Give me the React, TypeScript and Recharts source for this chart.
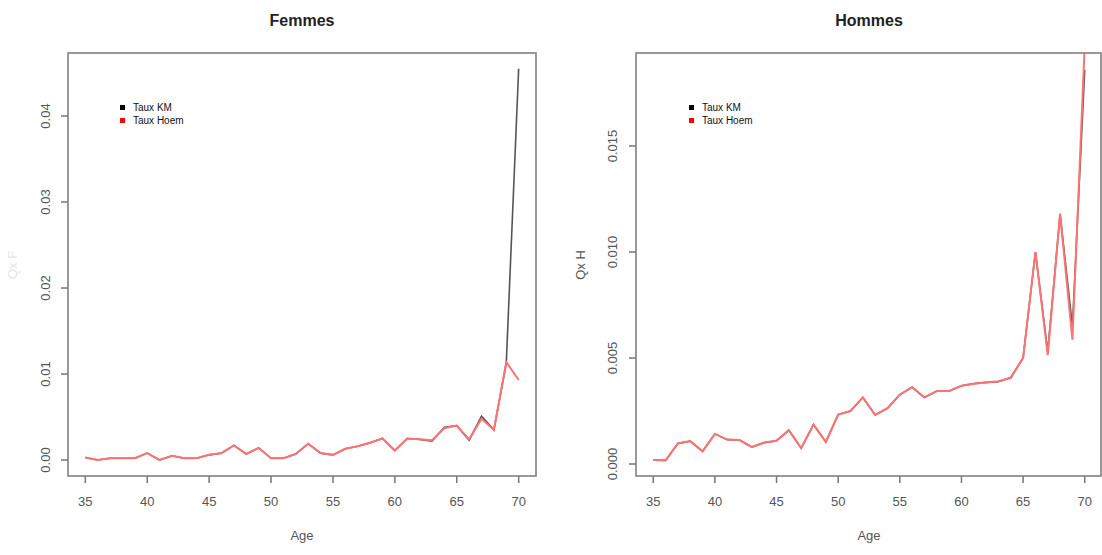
import { LineChart, Line, XAxis, YAxis, Legend } from 'recharts';

const ages = [
  35, 36, 37, 38, 39, 40, 41, 42, 43, 44, 45, 46, 47, 48, 49, 50, 51, 52,
  53, 54, 55, 56, 57, 58, 59, 60, 61, 62, 63, 64, 65, 66, 67, 68, 69, 70,
];

const femmesKM = [
  0.0003, 0.0, 0.0002, 0.0002, 0.0002, 0.0008, 0.0, 0.0005, 0.0002, 0.0002, 0.0006, 0.0008,
  0.0017, 0.0007, 0.0014, 0.0002, 0.0002, 0.0007, 0.0019, 0.0008, 0.0006, 0.0013, 0.0016, 0.002,
  0.0025, 0.0011, 0.0025, 0.0024, 0.0022, 0.0038, 0.004, 0.0023, 0.0051, 0.0035, 0.0113, 0.0455,
];
const femmesHoem = [
  0.0003, 0.0, 0.0002, 0.0002, 0.0002, 0.0008, 0.0, 0.0005, 0.0002, 0.0002, 0.0006, 0.0008,
  0.0017, 0.0007, 0.0014, 0.0002, 0.0002, 0.0007, 0.0019, 0.0008, 0.0006, 0.0013, 0.0016, 0.002,
  0.0025, 0.0011, 0.0025, 0.0024, 0.0023, 0.0037, 0.004, 0.0024, 0.0048, 0.0035, 0.0114, 0.0093,
];

const hommesKM = [
  0.00019, 0.00017, 0.00097, 0.00108, 0.0006, 0.00142, 0.00115, 0.00113, 0.0008, 0.00101, 0.0011, 0.00159,
  0.00075, 0.00186, 0.00104, 0.00233, 0.0025, 0.00314, 0.00231, 0.00263, 0.00327, 0.00362, 0.00314, 0.00344,
  0.00344, 0.00369, 0.00379, 0.00385, 0.00388, 0.00408, 0.005, 0.01, 0.0053, 0.0118, 0.0065, 0.0186,
];
const hommesHoem = [
  0.00019, 0.00017, 0.00097, 0.00108, 0.0006, 0.00142, 0.00115, 0.00113, 0.0008, 0.00101, 0.0011, 0.00159,
  0.00075, 0.00186, 0.00104, 0.00233, 0.0025, 0.00314, 0.00231, 0.00263, 0.00327, 0.00362, 0.00314, 0.00344,
  0.00344, 0.00369, 0.00379, 0.00385, 0.0039, 0.00406, 0.005, 0.01, 0.00513, 0.0118, 0.00586, 0.0198,
];

const ageTicks = [35, 40, 45, 50, 55, 60, 65, 70];
const femmesTicks = [0, 0.01, 0.02, 0.03, 0.04];
const hommesTicks = [0, 0.005, 0.01, 0.015];
const seriesNames = ['Taux KM', 'Taux Hoem'];

const FONT = '"Liberation Sans", Arial, sans-serif';
const KM_COLOR = '#555555';
const HOEM_COLOR = '#ff7272';

const toRows = (km: number[], hoem: number[]) =>
  ages.map((age, i) => ({ age, km: km[i], hoem: hoem[i] }));

function RotatedTick(props: any) {
  const { x, y, payload, digits } = props;
  return (
    <text
      x={x}
      y={y}
      transform={`rotate(-90, ${x}, ${y})`}
      textAnchor="middle"
      fill="#555"
      fontSize={13}
      fontFamily={FONT}
    >
      {Number(payload.value).toFixed(digits)}
    </text>
  );
}

// legend swatches are pure black / red, like R's legend(fill=...)
function LegendBox() {
  const colors = ['#000', '#ff0000'];
  return (
    <div style={{ fontFamily: FONT, fontSize: 10, lineHeight: '13px', color: '#111' }}>
      {seriesNames.map((name, i) => (
        <div key={name} style={{ display: 'flex', alignItems: 'center' }}>
          <span style={{ width: 5, height: 5, background: colors[i], marginRight: 8 }} />
          {name}
        </div>
      ))}
    </div>
  );
}

type PanelProps = {
  left: number;
  rows: { age: number; km: number; hoem: number }[];
  yDomain: [number, number];
  yTicks: number[];
  digits: number;
  yAxisWidth: number;
  marginRight: number;
  tickMargin: number;
  legendLeft: number;
};

function Panel(p: PanelProps) {
  return (
    <div style={{ position: 'absolute', left: p.left, top: 0 }}>
      <LineChart
        width={551}
        height={555}
        data={p.rows}
        margin={{ top: 53, right: p.marginRight, left: 0, bottom: 0 }}
      >
        <XAxis
          dataKey="age"
          type="number"
          domain={[33.6, 71.4]}
          ticks={ageTicks}
          height={79}
          axisLine={false}
          tickLine={{ stroke: '#777', strokeWidth: 1.5 }}
          tickSize={7}
          tickMargin={14}
          tick={{ fill: '#555', fontSize: 13, fontFamily: FONT }}
          allowDataOverflow
        />
        <YAxis
          type="number"
          domain={p.yDomain}
          ticks={p.yTicks}
          width={p.yAxisWidth}
          axisLine={false}
          tickLine={{ stroke: '#777', strokeWidth: 1.5 }}
          tickSize={7}
          tickMargin={p.tickMargin}
          tick={(t: any) => <RotatedTick {...t} digits={p.digits} />}
          allowDataOverflow
        />
        <Legend
          layout="horizontal"
          verticalAlign="middle"
          align="center"
          content={() => <LegendBox />}
          wrapperStyle={{ left: p.legendLeft, top: 101, width: 90, height: 30 }}
        />
        <Line
          dataKey="km"
          name={seriesNames[0]}
          stroke={KM_COLOR}
          strokeWidth={1.6}
          dot={false}
          isAnimationActive={false}
        />
        <Line
          dataKey="hoem"
          name={seriesNames[1]}
          stroke={HOEM_COLOR}
          strokeWidth={2}
          dot={false}
          isAnimationActive={false}
        />
      </LineChart>
    </div>
  );
}

export default function App() {
  return (
    <div
      style={{
        position: 'absolute',
        left: 0,
        top: 0,
        width: 1102,
        height: 555,
        background: '#fff',
        overflow: 'hidden',
      }}
    >
      <Panel
        left={0}
        rows={toRows(femmesKM, femmesHoem)}
        yDomain={[-0.00186, 0.04733]}
        yTicks={femmesTicks}
        digits={2}
        yAxisWidth={68}
        marginRight={15}
        tickMargin={11}
        legendLeft={120}
      />
      <Panel
        left={551}
        rows={toRows(hommesKM, hommesHoem)}
        yDomain={[-0.000566, 0.019387]}
        yTicks={hommesTicks}
        digits={3}
        yAxisWidth={85}
        marginRight={0}
        tickMargin={12}
        legendLeft={138}
      />
      <svg
        width={1102}
        height={555}
        style={{ position: 'absolute', left: 0, top: 0, pointerEvents: 'none' }}
        fontFamily={FONT}
      >
        <rect x={68} y={53} width={468} height={423} fill="none" stroke="#808080" strokeWidth={1.6} />
        <rect x={636} y={53} width={465} height={423} fill="none" stroke="#808080" strokeWidth={1.6} />
        <text x={302} y={26} textAnchor="middle" fontSize={16} fontWeight="bold" fill="#222">
          Femmes
        </text>
        <text x={869} y={26} textAnchor="middle" fontSize={16} fontWeight="bold" fill="#222">
          Hommes
        </text>
        <text x={302} y={540} textAnchor="middle" fontSize={13} fill="#555">
          Age
        </text>
        <text x={869} y={540} textAnchor="middle" fontSize={13} fill="#555">
          Age
        </text>
        <text x={17} y={265} textAnchor="middle" fontSize={13} fill="#e6e6e6" transform="rotate(-90, 17, 265)">
          Qx F
        </text>
        <text x={585} y={265} textAnchor="middle" fontSize={13} fill="#555" transform="rotate(-90, 585, 265)">
          Qx H
        </text>
      </svg>
    </div>
  );
}
